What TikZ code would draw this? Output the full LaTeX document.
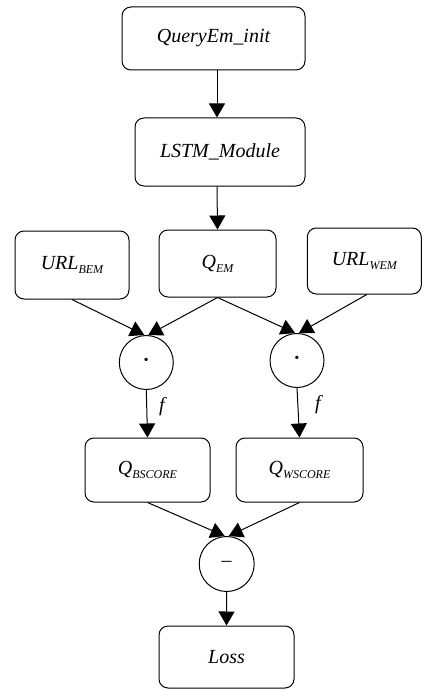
\documentclass[tikz,border=0pt]{standalone}
\usepackage{fontspec}
\setmainfont{Liberation Serif}[ItalicFont={Liberation Serif Italic}, BoldFont={Liberation Serif Bold}]
\usetikzlibrary{arrows.meta,calc}
\newcommand{\mysub}[1]{\raisebox{-4pt}{\fontsize{12}{12}\selectfont\itshape #1}}
\tikzset{
  box/.style={draw, line width=1pt, rounded corners=9pt, inner sep=0pt,
    font=\fontsize{20}{24}\selectfont\itshape},
  op/.style={draw, circle, line width=1pt, inner sep=0pt, minimum size=54pt,
    font=\fontsize{20}{24}\selectfont},
  arr/.style={line width=1pt, -{Triangle[width=16pt,length=14pt]}},
  lab/.style={font=\fontsize{20}{24}\selectfont\itshape, inner sep=0pt}
}
\begin{document}
\begin{tikzpicture}[x=1pt,y=-1pt]
\path[use as bounding box] (0,0) rectangle (422,690);
\node[box, minimum width=183pt, minimum height=63pt] (qinit) at (213.5,38.5) {QueryEm\_init};
\node[box, minimum width=170pt, minimum height=68pt] (lstm) at (220,152) {LSTM\_Module};
\node[box, minimum width=114pt, minimum height=68pt] (urlb) at (72,265) {URL\mysub{BEM}};
\node[box, minimum width=117pt, minimum height=67pt] (qem) at (217.5,263.5) {Q\mysub{EM}};
\node[box, minimum width=114pt, minimum height=66pt] (urlw) at (364.3,261) {URL\mysub{WEM}};
\node[op] (c1) at (146.3,362.5) {\textbf{·}};
\node[op] (c2) at (297,360.5) {\textbf{·}};
\node[box, minimum width=125pt, minimum height=64pt] (qb) at (147.5,470) {Q\mysub{BSCORE}};
\node[box, minimum width=127pt, minimum height=64pt] (qw) at (299.5,470) {Q\mysub{WSCORE}};
\node[op, minimum size=55pt] (c3) at (226.7,564) {–};
\node[box, minimum width=135pt, minimum height=62pt] (loss) at (226.5,657) {Loss};

\draw[arr] ($(qinit.south)+(3.5,0)$) -- ($(lstm.north)+(-3,0)$);
\draw[arr] ($(lstm.south)+(-3,0)$) -- (qem.north);
\draw[arr] (urlb.south) -- ($(c1.north)+(-2,0)$);
\draw[arr] (qem.south) -- ($(c1.north)+(2,0)$);
\draw[arr] (qem.south) -- ($(c2.north)+(-2,0)$);
\draw[arr] ($(urlw.south)+(2.5,0)$) -- ($(c2.north)+(2,0)$);
\draw[arr] (c1.south) -- (qb.north);
\draw[arr] (c2.south) -- (qw.north);
\draw[arr] (qb.south) -- ($(c3.north)+(-2,0)$);
\draw[arr] (qw.south) -- ($(c3.north)+(2,0)$);
\draw[arr] (c3.south) -- (loss.north);
\node[lab] (f1) at (162,407) {f};
\node[lab] (f2) at (318,405) {f};
\end{tikzpicture}
\end{document}
